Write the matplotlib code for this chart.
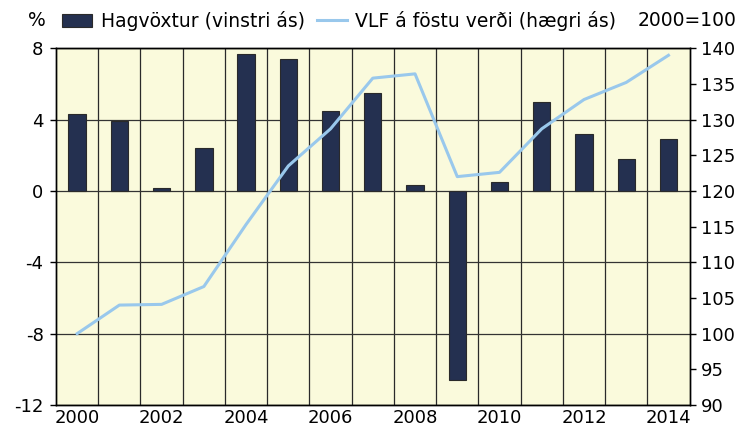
import matplotlib
matplotlib.use("Agg")
import matplotlib.pyplot as plt
from matplotlib.patches import Patch
from matplotlib.lines import Line2D

years = list(range(2000, 2015))
growth = [4.3, 3.9, 0.15, 2.4, 7.7, 7.4, 4.5, 5.5, 0.35, -10.6, 0.5, 5.0, 3.2, 1.8, 2.9]
gdp_index = [100.0, 104.0, 104.1, 106.6, 115.3, 123.5, 128.7, 135.8, 136.4, 122.0, 122.6, 128.7, 132.8, 135.2, 139.0]
left_ticks = [-12, -8, -4, 0, 4, 8]
right_ticks = list(range(90, 141, 5))
xlabel_years = list(range(2000, 2015, 2))

bar_color = "#243050"
line_color = "#99C8EC"
bg_color = "#FAFADC"

plt.rcParams['font.family'] = ['DejaVu Sans']
fig = plt.figure(figsize=(7.41, 4.32), dpi=100)
ax = fig.add_axes([0.0756, 0.0625, 0.855, 0.826])
ax.set_facecolor(bg_color)
ax.bar(years, growth, width=0.41, color=bar_color, edgecolor="#2a2a2a", linewidth=0.8, zorder=3)
ax.set_xlim(1999.5, 2014.5)
ax.set_ylim(-12, 8)
ax.set_yticks(left_ticks)
ax.set_yticklabels([str(t) for t in left_ticks], fontsize=13)
ax.set_xticks(xlabel_years)
ax.set_xticklabels([str(y) for y in xlabel_years], fontsize=13)
ax.set_xticks([y - 0.5 for y in years[1:]], minor=True)
ax.tick_params(axis='x', which='both', length=0, pad=3)
ax.tick_params(axis='y', length=4, width=1, pad=5)
ax.grid(True, axis='x', which='minor', color="#2a2a2a", linewidth=0.9, zorder=1)
ax.grid(True, axis='y', which='major', color="#333333", linewidth=0.9, zorder=1)
for s in ax.spines.values():
    s.set_linewidth(1.0)
    s.set_color("black")

ax2 = ax.twinx()
ax2.plot(years, gdp_index, color=line_color, linewidth=2.2, zorder=4)
ax2.set_ylim(90, 140)
ax2.set_yticks(right_ticks)
ax2.set_yticklabels([str(t) for t in right_ticks], fontsize=13)
ax2.tick_params(axis='y', length=4, width=1, pad=4)
for s in ax2.spines.values():
    s.set_linewidth(1.0)
    s.set_color("black")

fig.text(0.038, 0.952, "%", fontsize=13.5, ha='left', va='center')
fig.text(0.994, 0.952, "2000=100", fontsize=13.5, ha='right', va='center')
handles = [Patch(facecolor=bar_color, edgecolor="#2a2a2a", linewidth=0.8),
           Line2D([0], [0], color=line_color, linewidth=2.2)]
labels = ["Hagvöxtur (vinstri ás)", "VLF á föstu verði (hægri ás)"]
fig.legend(handles, labels, loc='center left', bbox_to_anchor=(0.084, 0.952), ncol=2,
           frameon=False, fontsize=13.5, handlelength=1.6, handletextpad=0.45,
           columnspacing=0.65, borderaxespad=0, borderpad=0)

fig.savefig("out.png", dpi=100)
